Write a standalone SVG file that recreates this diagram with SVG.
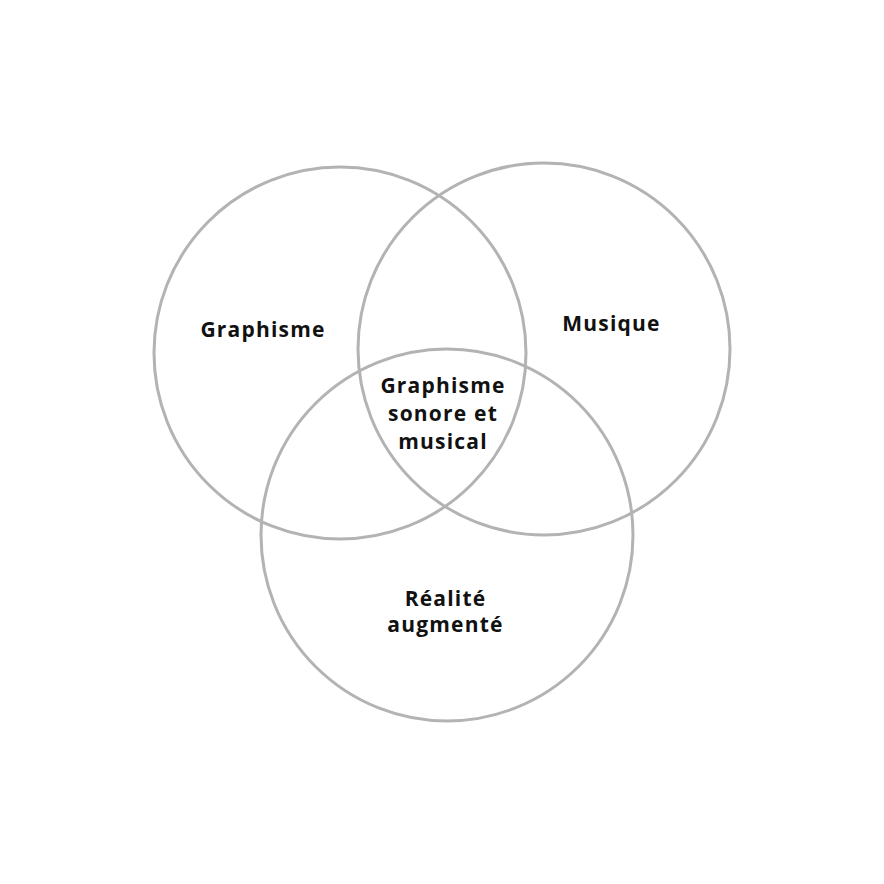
<svg xmlns="http://www.w3.org/2000/svg" width="884" height="884" viewBox="0 0 884 884">
<style>
.c{fill:none;stroke:#b3b3b3;stroke-width:3}
.t{font-family:"Open Sans","Liberation Sans",sans-serif;font-weight:bold;font-size:21px;letter-spacing:1.2px;fill:#111;text-anchor:middle}
</style>
<rect width="884" height="884" fill="#fff"/>
<g id="graphisme"><circle class="c" cx="340" cy="353" r="186"/><text class="t" x="263" y="337">Graphisme</text></g>
<g id="musique"><circle class="c" cx="544" cy="349" r="186"/><text class="t" x="611.5" y="331">Musique</text></g>
<g id="realite"><circle class="c" cx="447" cy="535" r="186"/><text class="t" x="445.5" y="606">Réalité</text><text class="t" x="445.5" y="632">augmenté</text></g>
<g id="centre"><text class="t" x="443" y="393">Graphisme</text><text class="t" x="443" y="421">sonore et</text><text class="t" x="443" y="449">musical</text></g>
</svg>
